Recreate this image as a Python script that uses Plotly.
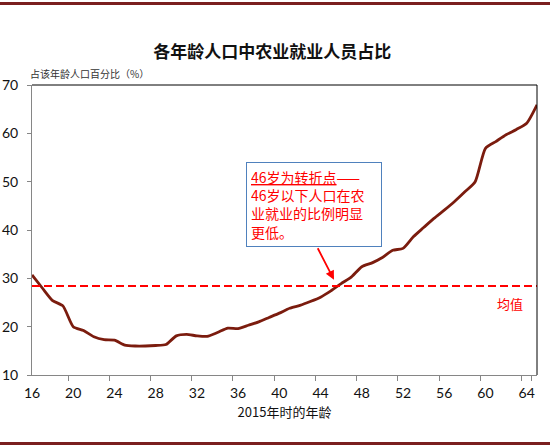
import plotly.graph_objects as go

# ages 16..65 and share of agricultural workers (%)
ages = list(range(16, 66))
share = [
    30.7, 28.0, 25.4, 24.3, 20.0, 19.2, 17.9, 17.3, 17.2, 16.2,
    16.0, 16.0, 16.1, 16.3, 18.1, 18.4, 18.1, 18.0, 18.8, 19.7,
    19.6, 20.3, 21.0, 21.9, 22.8, 23.8, 24.4, 25.2, 26.1, 27.4,
    28.9, 30.3, 32.4, 33.2, 34.3, 35.8, 36.2, 38.6, 40.5, 42.4,
    44.1, 45.9, 47.9, 50.0, 56.9, 58.3, 59.7, 60.8, 62.1, 65.9,
]
mean_share = 28.4
x_ticks = list(range(16, 65, 4))
y_ticks = [10, 20, 30, 40, 50, 60, 70]

LINE = "#7b1c0e"
RED = "#ff0000"
FRAME = "#7a1f1f"
CJK = "Noto Sans CJK SC"
NUM = "Lato"

fig = go.Figure()

fig.add_trace(
    go.Scatter(
        x=ages,
        y=share,
        mode="lines",
        line=dict(color=LINE, width=2.8, shape="spline", smoothing=0.6),
        showlegend=False,
        hoverinfo="x+y",
    )
)

shapes = [
    # mean line
    dict(type="line", xref="paper", x0=0, x1=1, yref="y", y0=mean_share, y1=mean_share,
         line=dict(color=RED, width=2, dash="8px,4px")),
    # black top / right edges of the plot area
    dict(type="line", xref="paper", x0=0, x1=1, yref="paper", y0=1, y1=1,
         line=dict(color="#000000", width=1)),
    dict(type="line", xref="paper", x0=1, x1=1, yref="paper", y0=0, y1=1,
         line=dict(color="#000000", width=1)),
    # dark red rules at top and bottom of the page
    dict(type="line", xref="paper", x0=-0.07, x1=1.03, yref="paper", y0=1.281, y1=1.281,
         line=dict(color=FRAME, width=3)),
    dict(type="line", xref="paper", x0=-0.07, x1=1.03, yref="paper", y0=-0.236, y1=-0.236,
         line=dict(color=FRAME, width=3)),
]

annotations = [
    # y axis caption
    dict(xref="paper", yref="paper", x=-0.008, y=1.041, xanchor="left", yanchor="middle",
         text="占该年龄人口百分比（%）", showarrow=False,
         font=dict(family=CJK, size=10, color="#333333")),
    # mean label
    dict(xref="paper", yref="y", x=0.947, y=mean_share, yshift=-17, xanchor="center",
         yanchor="middle", text="均值", showarrow=False,
         font=dict(family=CJK, size=13, color=RED)),
    # callout box
    dict(xref="paper", yref="paper", x=0.424, y=0.734, xanchor="left", yanchor="top",
         text="<u>46岁为转折点</u>——<br>46岁以下人口在农<br>业就业的比例明显<br>更低。",
         align="left", showarrow=False, bgcolor="white", bordercolor="#4f81bd",
         borderwidth=1, borderpad=4, width=126,
         font=dict(family=CJK, size=14, color=RED)),
    # arrow
    dict(x=45.3 - 16, y=29.7, xref="x", yref="y", ax=-17, ay=-33, text="",
         showarrow=True, arrowhead=2, arrowsize=1, arrowwidth=1.8, arrowcolor=RED),
]

fig.update_layout(
    width=550,
    height=446,
    autosize=False,
    paper_bgcolor="white",
    plot_bgcolor="white",
    margin=dict(l=32, r=13, t=85, b=71),
    title=dict(text="<b>各年龄人口中农业就业人员占比</b>", x=0.495, xanchor="center",
               y=0.883, yanchor="middle", font=dict(family=CJK, size=17, color="#111111")),
    xaxis=dict(
        type="category",
        categoryorder="array",
        categoryarray=ages,
        tickvals=x_ticks,
        ticktext=[str(t) for t in x_ticks],
        tickson="boundaries",
        tickangle=0,
        ticks="outside",
        ticklen=5,
        tickcolor="#868686",
        showline=True,
        linecolor="#868686",
        showgrid=False,
        zeroline=False,
        automargin=False,
        ticklabelstandoff=5,
        tickfont=dict(family=NUM, size=14, color="#111111"),
        title=dict(text="2015年时的年龄", standoff=8,
                   font=dict(family=CJK, size=13, color="#111111")),
    ),
    yaxis=dict(
        range=[10, 70],
        tickvals=y_ticks,
        ticks="outside",
        ticklen=4,
        tickcolor="#868686",
        showline=True,
        linecolor="#868686",
        showgrid=False,
        zeroline=False,
        automargin=False,
        ticklabelstandoff=6,
        tickfont=dict(family=NUM, size=14, color="#111111"),
    ),
    shapes=shapes,
    annotations=annotations,
)

# drop the browser's default page margin so the figure sits at the window corner
fig.write_html(
    "out.html",
    config={"displayModeBar": False},
    post_script="document.body.style.margin='0';",
)
